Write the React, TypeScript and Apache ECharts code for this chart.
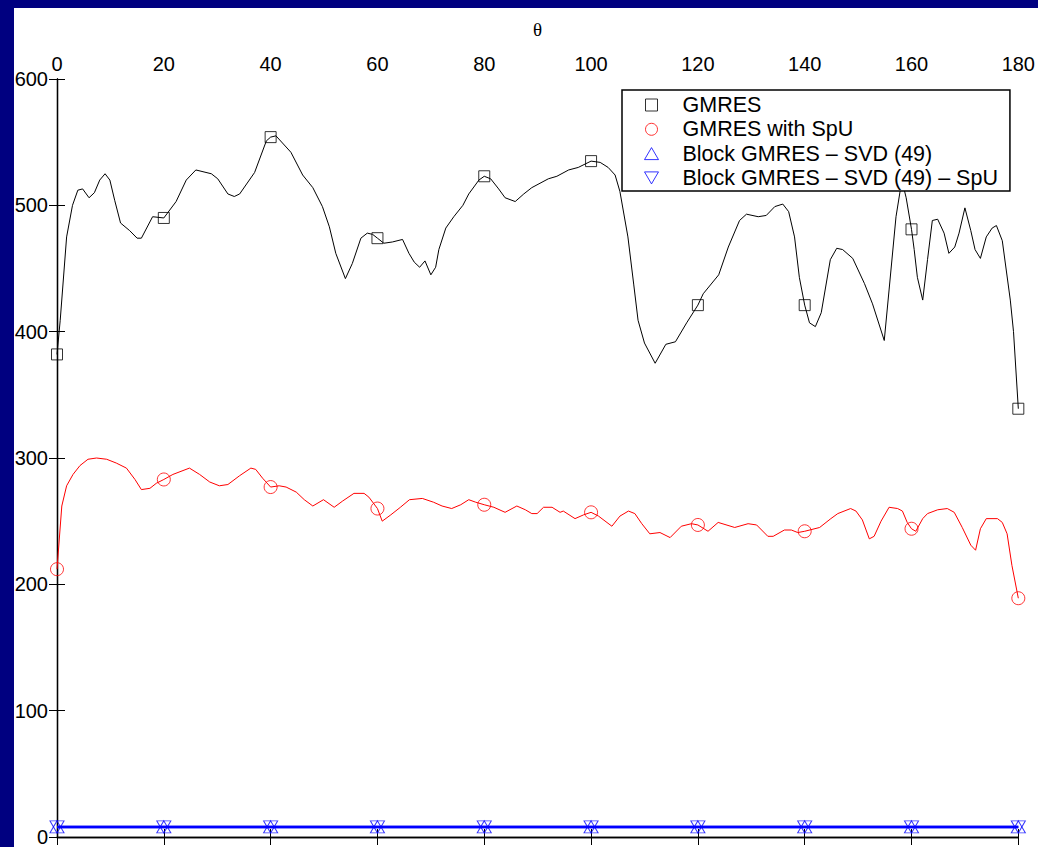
import React, { useEffect, useRef } from "react";
import * as echarts from "echarts";

// GMRES curve (θ, iterations)
const gmresTheta = [0, 0.6, 1.8, 2.9, 3.9, 4.8, 6.0, 7.0, 8.0, 9.0, 9.9, 10.8, 11.9, 13.6, 15.0, 15.8, 17.9, 20, 22.3, 24.2, 26.0, 28.9, 30.1, 32.0, 33.2, 34.2, 37.0, 39.2, 40, 41.0, 43.8, 46.0, 47.9, 49.7, 51.0, 52.2, 54.0, 55.3, 56.9, 58.1, 59.1, 60, 61.2, 62.8, 64.7, 65.9, 66.9, 67.9, 68.9, 70.0, 70.9, 71.5, 72.8, 74.3, 76.0, 77.1, 79.0, 80, 81.2, 82.7, 83.9, 85.8, 87.4, 88.9, 92.0, 93.6, 95.8, 97.6, 100, 101.7, 103.2, 104.5, 105.4, 106.9, 108.0, 108.8, 110.0, 112.0, 114.0, 115.8, 117.9, 120, 121.0, 123.9, 125.7, 127.8, 129.1, 131.3, 132.8, 134.4, 135.9, 137.0, 138.1, 139.0, 140, 140.9, 142.0, 143.1, 144.8, 146.0, 147.1, 149.0, 151.2, 152.7, 154.9, 155.8, 157.1, 158.2, 159.0, 160, 160.5, 161.1, 162.1, 163.0, 163.9, 164.9, 166.1, 167.0, 168.1, 168.9, 170.0, 171.1, 171.9, 172.9, 174.0, 175.1, 175.9, 177.0, 178.5, 179.1, 180];
const gmresValue = [382, 409, 475, 500, 512, 513, 506, 510, 520, 525, 520, 504, 486, 480, 474, 474, 491, 490, 503, 520, 528, 525, 521, 509, 507, 509, 526, 551, 554, 555, 542, 524, 514, 499, 483, 462, 442, 454, 474, 478, 477, 474, 470, 471, 473, 462, 455, 451, 456, 445, 451, 465, 482, 491, 500, 509, 520, 523, 521, 513, 506, 503, 509, 514, 521, 523, 528, 530, 535, 534, 530, 524, 511, 475, 437, 409, 391, 375, 390, 392, 407, 421, 430, 445, 467, 488, 493, 491, 492, 499, 501, 495, 475, 443, 421, 407, 404, 415, 457, 466, 465, 458, 438, 422, 393, 433, 491, 520, 506, 481, 465, 443, 425, 457, 488, 489, 478, 462, 467, 478, 498, 480, 465, 458, 475, 482, 484, 472, 425, 400, 339];

// GMRES with SpU curve
const spuTheta = [0, 0.9, 1.8, 3.0, 4.3, 5.8, 7.4, 9.3, 11.1, 13.0, 14.6, 15.8, 17.4, 18.6, 20, 21.7, 24.8, 26.7, 28.6, 30.4, 32.0, 34.2, 36.3, 37.2, 38.5, 40, 41.6, 42.9, 44.8, 46.3, 47.9, 49.9, 51.9, 53.5, 55.6, 57.5, 58.4, 60, 60.9, 62.5, 64.3, 66.0, 68.4, 70.5, 72.1, 73.9, 75.6, 77.1, 78.4, 80, 81.8, 83.9, 86.1, 87.7, 88.9, 89.9, 91.1, 92.7, 94.2, 94.8, 97.0, 98.6, 100, 101.4, 103.9, 105.4, 107.0, 108.2, 109.5, 111.0, 112.9, 114.8, 116.9, 118.8, 120, 121.9, 123.8, 126.9, 129.4, 131.0, 133.1, 134.1, 136.2, 137.5, 138.7, 140, 142.8, 144.9, 146.2, 148.6, 149.6, 150.8, 152.1, 153.0, 154.3, 155.8, 157.4, 158.3, 159.2, 160, 160.8, 162.1, 163.0, 164.9, 166.7, 168.0, 169.5, 171.1, 172.0, 172.9, 174.0, 176.1, 177.0, 177.9, 178.8, 180];
const spuValue = [212, 262, 278, 287, 294, 299, 300, 299, 296, 292, 283, 275, 276, 280, 283, 287, 292, 287, 281, 278, 279, 286, 292, 291, 284, 277, 278, 277, 273, 267, 262, 267, 261, 266, 272, 272, 269, 260, 250, 255, 261, 267, 268, 265, 262, 260, 263, 267, 265, 263, 261, 257, 262, 259, 256, 256, 261, 261, 257, 258, 252, 255, 257, 254, 246, 254, 258, 256, 248, 240, 241, 237, 246, 248, 247, 242, 249, 245, 248, 247, 238, 238, 243, 243, 241, 242, 245, 252, 256, 260, 258, 251, 236, 238, 250, 261, 260, 258, 249, 244, 242, 252, 256, 259, 260, 257, 245, 231, 227, 244, 252, 252, 249, 240, 215, 189];

// Block GMRES curves
const blockTheta = [0, 20, 40, 60, 80, 100, 120, 140, 160, 180];
const blockSvdValue = [8, 8, 8, 8, 8, 8, 8, 8, 8, 8];
const blockSvdSpuValue = [8, 8, 8, 8, 8, 8, 8, 8, 8, 8];

const xTicks = [0, 20, 40, 60, 80, 100, 120, 140, 160, 180];
const seriesNames = [
  "GMRES",
  "GMRES with SpU",
  "Block GMRES \u2013 SVD (49)",
  "Block GMRES \u2013 SVD (49) \u2013 SpU",
];

const pairs = (xs: number[], ys: number[]) => xs.map((x, i) => [x, ys[i]]);
const markers = (xs: number[], ys: number[]) =>
  xs.map((x, i) => [x, ys[i]]).filter((p) => xTicks.includes(p[0]));

const SQUARE = "path://M0,0 L10,0 L10,10 L0,10 Z";
const UP_TRI = "path://M7,0 L14,12 L0,12 Z";
const DOWN_TRI = "path://M0,0 L14,0 L7,12 Z";
const FONT = "Liberation Sans, Arial, sans-serif";

export default function App() {
  const ref = useRef<HTMLDivElement>(null);
  useEffect(() => {
    if (!ref.current) return;
    const chart = echarts.init(ref.current, null, { renderer: "svg" });
    const hollow = (c: string) => ({ color: "rgba(0,0,0,0)", borderColor: c, borderWidth: 1 });
    const axisCommon = {
      type: "value" as const,
      axisLine: { show: true, lineStyle: { color: "#000", width: 1.3 } },
      axisTick: { show: true, inside: true, length: 8, lineStyle: { color: "#000", width: 1 } },
      splitLine: { show: false },
    };
    chart.setOption({
      animation: false,
      backgroundColor: "transparent",
      grid: { left: 57, right: 17, top: 79, bottom: 8, containLabel: false },
      xAxis: [
        {
          ...axisCommon,
          position: "top",
          min: 0,
          max: 180,
          interval: 20,
          name: "\u03b8",
          nameLocation: "middle",
          nameGap: 40,
          nameTextStyle: { fontFamily: "Liberation Serif, serif", fontSize: 19, color: "#000" },
          axisLabel: { show: true, fontSize: 20, color: "#000", fontFamily: FONT, margin: 5 },
        },
        {
          ...axisCommon,
          position: "bottom",
          min: 0,
          max: 180,
          interval: 20,
          axisLabel: { show: false },
        },
      ],
      yAxis: [
        {
          ...axisCommon,
          position: "left",
          min: 0,
          max: 600,
          interval: 100,
          axisLabel: { show: true, fontSize: 20, color: "#000", fontFamily: FONT, margin: 9 },
        },
        {
          ...axisCommon,
          position: "right",
          min: 0,
          max: 600,
          interval: 100,
          axisLabel: { show: false },
        },
      ],
      legend: {
        orient: "vertical",
        left: 622,
        top: 90,
        padding: [4, 12, 2, 22],
        itemWidth: 52,
        itemHeight: 12,
        itemGap: 2.3,
        symbolKeepAspect: true,
        backgroundColor: "#fff",
        borderColor: "#000",
        borderWidth: 1.5,
        borderRadius: 0,
        selectedMode: false,
        textStyle: { fontSize: 21.5, color: "#000", fontFamily: FONT },
        data: [
          { name: seriesNames[0], icon: SQUARE, itemStyle: hollow("#000") },
          { name: seriesNames[1], icon: "circle", itemStyle: hollow("#ff0000") },
          { name: seriesNames[2], icon: UP_TRI, itemStyle: hollow("#0000ff") },
          { name: seriesNames[3], icon: DOWN_TRI, itemStyle: hollow("#0000ff") },
        ],
      },
      series: [
        {
          name: "gmres-line",
          type: "line",
          data: pairs(gmresTheta, gmresValue),
          showSymbol: false,
          lineStyle: { color: "#000", width: 1 },
          itemStyle: { color: "#000" },
          z: 2,
        },
        {
          name: "spu-line",
          type: "line",
          data: pairs(spuTheta, spuValue),
          showSymbol: false,
          lineStyle: { color: "#ff0000", width: 1 },
          itemStyle: { color: "#ff0000" },
          z: 2,
        },
        {
          name: "block-line",
          type: "line",
          data: pairs(blockTheta, blockSvdValue),
          showSymbol: false,
          lineStyle: { color: "#0000ff", width: 2.5 },
          itemStyle: { color: "#0000ff" },
          z: 2,
        },
        {
          name: "block-spu-line",
          type: "line",
          data: pairs(blockTheta, blockSvdSpuValue),
          showSymbol: false,
          lineStyle: { color: "#0000ff", width: 2.5 },
          itemStyle: { color: "#0000ff" },
          z: 2,
        },
        {
          name: seriesNames[0],
          type: "scatter",
          data: markers(gmresTheta, gmresValue),
          symbol: "rect",
          symbolSize: 11,
          itemStyle: hollow("#000"),
          clip: false,
          z: 3,
        },
        {
          name: seriesNames[1],
          type: "scatter",
          data: markers(spuTheta, spuValue),
          symbol: "circle",
          symbolSize: 13,
          itemStyle: hollow("#ff0000"),
          clip: false,
          z: 3,
        },
        {
          name: seriesNames[2],
          type: "scatter",
          data: markers(blockTheta, blockSvdValue),
          symbol: UP_TRI,
          symbolSize: [14, 12],
          itemStyle: hollow("#0000ff"),
          clip: false,
          z: 3,
        },
        {
          name: seriesNames[3],
          type: "scatter",
          data: markers(blockTheta, blockSvdSpuValue),
          symbol: DOWN_TRI,
          symbolSize: [14, 12],
          itemStyle: hollow("#0000ff"),
          clip: false,
          z: 3,
        },
      ],
    });
    return () => chart.dispose();
  }, []);

  return (
    <div style={{ position: "absolute", left: 0, top: 0, width: 1038, height: 847, background: "#000080", overflow: "hidden" }}>
      <div style={{ position: "absolute", left: 14, top: 8, width: 1024, height: 839, background: "#fff" }} />
      <div ref={ref} style={{ position: "absolute", left: 0, top: 0, width: 1038, height: 847 }} />
    </div>
  );
}
